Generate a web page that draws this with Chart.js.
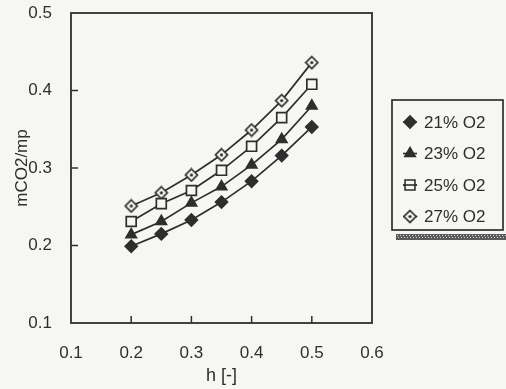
<!DOCTYPE html>
<html>
<head>
<meta charset="utf-8">
<script src="https://cdn.jsdelivr.net/npm/chart.js@4"></script>
<style>
  html, body { margin: 0; padding: 0; background: #f6f7f2; }
  #wrap { width: 506px; height: 389px; }
</style>
</head>
<body>
<div id="wrap"><canvas id="graph" width="506" height="389"></canvas></div>
<script>
var ctx = document.getElementById('graph').getContext('2d');

const hValues = [0.2, 0.25, 0.3, 0.35, 0.4, 0.45, 0.5]
const seriesNames = ['21% O2', '23% O2', '25% O2', '27% O2']
const o2_21 = [0.199, 0.215, 0.233, 0.256, 0.283, 0.316, 0.353]
const o2_23 = [0.214, 0.231, 0.255, 0.276, 0.304, 0.337, 0.380]
const o2_25 = [0.231, 0.254, 0.271, 0.297, 0.328, 0.365, 0.408]
const o2_27 = [0.251, 0.268, 0.291, 0.317, 0.349, 0.387, 0.436]
const xTicks = [0.1, 0.2, 0.3, 0.4, 0.5, 0.6]
const yTicks = [0.1, 0.2, 0.3, 0.4, 0.5]

const ink = '#2e2e2e'
const bg = '#f6f7f2'
const fontFam = '"Liberation Sans", Arial, sans-serif'

function pts(ys) {
    return hValues.map((h, i) => ({ x: h, y: ys[i] }))
}

// open diamond with a dot in the middle
const dotDiamond = document.createElement('canvas')
dotDiamond.width = 15; dotDiamond.height = 15
;(function () {
    const g = dotDiamond.getContext('2d')
    g.fillStyle = bg
    g.strokeStyle = ink
    g.lineWidth = 1.7
    g.beginPath()
    g.moveTo(7.5, 1.5); g.lineTo(13.5, 7.5); g.lineTo(7.5, 13.5); g.lineTo(1.5, 7.5); g.closePath()
    g.fill(); g.stroke()
    g.fillStyle = ink
    g.beginPath(); g.arc(7.5, 7.5, 1.6, 0, Math.PI * 2); g.fill()
})()

const markers = [
    { style: 'rectRot', radius: 6, fill: ink },
    { style: 'triangle', radius: 6, fill: ink },
    { style: 'rect', radius: 7, fill: bg },
    { style: dotDiamond, radius: 7, fill: bg }
]

const datasets = [o2_21, o2_23, o2_25, o2_27].map((ys, i) => ({
    label: seriesNames[i],
    data: pts(ys),
    borderColor: ink,
    borderWidth: 1.7,
    pointStyle: markers[i].style,
    pointRadius: markers[i].radius,
    pointBackgroundColor: markers[i].fill,
    pointBorderColor: ink,
    pointBorderWidth: 1.7,
    tension: 0
}))

// frame, inward ticks and the boxed legend
const decor = {
    id: 'decor',
    afterDraw(chart) {
        const c = chart.ctx
        const a = chart.chartArea
        const xs = chart.scales.x, ys = chart.scales.y
        c.save()
        c.strokeStyle = ink
        c.lineWidth = 1.8
        c.strokeRect(a.left, a.top, a.right - a.left, a.bottom - a.top)
        c.lineWidth = 1.5
        c.beginPath()
        xTicks.slice(1, -1).forEach(v => {
            const px = xs.getPixelForValue(v)
            c.moveTo(px, a.bottom); c.lineTo(px, a.bottom - 7)
        })
        yTicks.slice(1, -1).forEach(v => {
            const py = ys.getPixelForValue(v)
            c.moveTo(a.left, py); c.lineTo(a.left + 7, py)
        })
        c.stroke()

        // legend
        const lx = 392, ly = 100, lw = 111, lh = 130
        c.fillStyle = '#5a5a5a'
        c.fillRect(lx + 4, ly + lh + 4, lw + 3, 6)
        c.fillStyle = '#d8d8d8'
        for (let x = lx + 5; x < lx + lw + 7; x += 3) {
            c.fillRect(x, ly + lh + 5, 1, 1)
            c.fillRect(x + 1, ly + lh + 7, 1, 1)
        }
        c.fillStyle = bg
        c.fillRect(lx, ly, lw, lh)
        c.lineWidth = 1.7
        c.strokeStyle = ink
        c.strokeRect(lx, ly, lw, lh)
        c.font = '17px ' + fontFam
        c.textBaseline = 'middle'
        chart.data.datasets.forEach((ds, i) => {
            const yy = 122 + i * 31.5
            c.strokeStyle = ink
            c.lineWidth = 1.6
            c.beginPath(); c.moveTo(403, yy); c.lineTo(417, yy); c.stroke()
            c.fillStyle = ds.pointBackgroundColor
            Chart.helpers.drawPoint(c, { pointStyle: ds.pointStyle, radius: ds.pointRadius, borderWidth: 1.6 }, 410, yy)
            if (ds.pointStyle === 'rect') {
                c.beginPath(); c.moveTo(403, yy); c.lineTo(417, yy); c.stroke()
            }
            c.fillStyle = ink
            c.fillText(ds.label, 424, yy + 1)
        })
        c.restore()
    }
}

var lineChart = new Chart(ctx, {
    type: 'line',
    data: { datasets: datasets },
    options: {
        responsive: false,
        animation: false,
        layout: { padding: { top: 13, right: 134, left: 0, bottom: 0 } },
        scales: {
            x: {
                type: 'linear',
                min: 0.1,
                max: 0.6,
                afterBuildTicks: s => { s.ticks = xTicks.map(v => ({ value: v })) },
                afterFit: s => { s.height = 66 },
                grid: { display: false },
                border: { display: false },
                ticks: {
                    color: ink,
                    padding: 12,
                    maxRotation: 0,
                    font: { size: 17, family: fontFam },
                    callback: v => v.toFixed(1)
                },
                title: {
                    display: true,
                    text: 'h [-]',
                    color: ink,
                    padding: { top: 0, bottom: 2 },
                    font: { size: 18, family: fontFam }
                }
            },
            y: {
                min: 0.1,
                max: 0.5,
                afterBuildTicks: s => { s.ticks = yTicks.map(v => ({ value: v })) },
                afterFit: s => { s.width = 71; s.paddingTop = 0; s.paddingBottom = 0 },
                grid: { display: false },
                border: { display: false },
                ticks: {
                    color: ink,
                    padding: 11,
                    font: { size: 17, family: fontFam },
                    callback: v => v.toFixed(1)
                },
                title: {
                    display: true,
                    text: 'mCO2/mp',
                    color: ink,
                    padding: { top: 12, bottom: 0 },
                    font: { size: 17, family: fontFam }
                }
            }
        },
        plugins: {
            legend: { display: false },
            tooltip: { enabled: false }
        }
    },
    plugins: [decor]
});
</script>
</body>
</html>
